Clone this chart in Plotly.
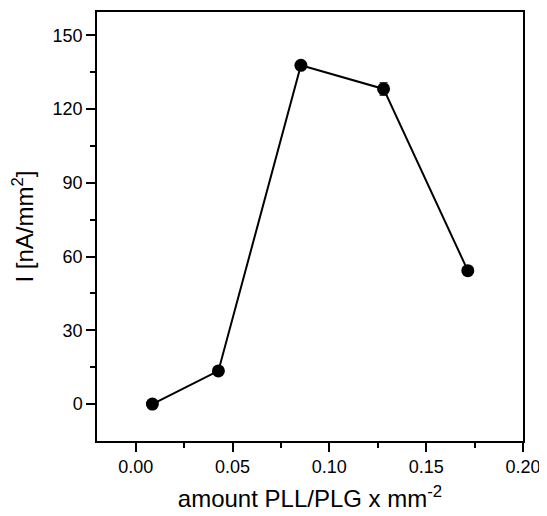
import plotly.graph_objects as go

x_vals = [0.0086, 0.0427, 0.0853, 0.128, 0.1715]
y_vals = [0.0, 13.5, 137.8, 128.2, 54.3]
y_err = [0.5, 0.8, 0.8, 2.5, 0.8]
x_err = [0.0, 0.0015, 0.0, 0.0015, 0.0015]

fig = go.Figure()
fig.add_trace(go.Scatter(
    x=x_vals, y=y_vals, mode="lines+markers",
    line=dict(color="black", width=2),
    marker=dict(color="black", size=13),
    error_y=dict(type="data", array=y_err, color="black", thickness=1.2, width=4),
    error_x=dict(type="data", array=x_err, color="black", thickness=1.2, width=3),
    showlegend=False,
))

font_family = "Liberation Sans, Arial, sans-serif"
fig.update_layout(
    width=539, height=508,
    margin=dict(l=89, r=24, t=4, b=75),
    paper_bgcolor="white", plot_bgcolor="white",
    font=dict(family=font_family, color="black"),
)
fig.update_xaxes(
    range=[-0.02, 0.20], tickvals=[0.0, 0.05, 0.10, 0.15, 0.20],
    ticktext=["0.00", "0.05", "0.10", "0.15", "0.20"],
    ticks="outside", ticklen=9, tickwidth=1.5, tickcolor="black",
    minor=dict(tickvals=[-0.025, 0.025, 0.075, 0.125, 0.175], ticks="outside", ticklen=5, tickwidth=1.5, tickcolor="black"),
    showline=True, linecolor="black", linewidth=1.5, mirror=True,
    showgrid=False, zeroline=False, automargin=False,
    tickfont=dict(size=18),
    title=dict(text="amount PLL/PLG x mm<sup>-2</sup>", font=dict(size=24), standoff=14),
)
fig.update_yaxes(
    range=[-15, 159.5], tickvals=[0, 30, 60, 90, 120, 150],
    ticks="outside", ticklen=9, tickwidth=1.5, tickcolor="black",
    minor=dict(tickvals=[15, 45, 75, 105, 135], ticks="outside", ticklen=5, tickwidth=1.5, tickcolor="black"),
    showline=True, linecolor="black", linewidth=1.5, mirror=True,
    showgrid=False, zeroline=False, automargin=False,
    tickfont=dict(size=18),
    title=dict(text="I [nA/mm<sup>2</sup>]", font=dict(size=24), standoff=14),
)
fig.write_html("out.html")
